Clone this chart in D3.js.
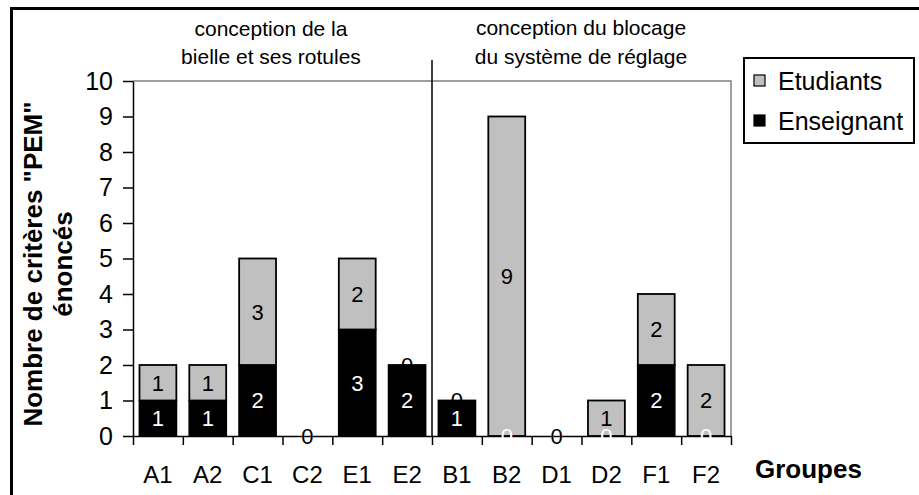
<!DOCTYPE html>
<html>
<head>
<meta charset="utf-8">
<script src="https://cdn.jsdelivr.net/npm/d3@7"></script>
<style>
  body { margin: 0; background: #fff; }
  text { font-family: "Liberation Sans", Arial, sans-serif; }
</style>
</head>
<body>
<div id="plot"></div>
<script>
// data
let groupes = ['A1', 'A2', 'C1', 'C2', 'E1', 'E2', 'B1', 'B2', 'D1', 'D2', 'F1', 'F2'];
let enseignant = [1, 1, 2, 0, 3, 2, 1, 0, 0, 0, 2, 0];
let etudiants  = [1, 1, 3, 0, 2, 0, 0, 9, 0, 1, 2, 2];
let yTicks = [0, 1, 2, 3, 4, 5, 6, 7, 8, 9, 10];
let headerLeft  = ['conception de la', 'bielle et ses rotules'];
let headerRight = ['conception du blocage', 'du système de réglage'];
let series = ['Enseignant', 'Etudiants'];

let data = groupes.map((g, i) => ({ groupe: g, Enseignant: enseignant[i], Etudiants: etudiants[i] }));

let width = 919, height = 495;
let margin = { top: 81, bottom: 59, left: 133, right: 188 };

const colors = d3.scaleOrdinal()
  .domain(series)
  .range(['#000000', '#c0c0c0']);
const labelColors = d3.scaleOrdinal()
  .domain(series)
  .range(['#ffffff', '#000000']);

let svg = d3.select('#plot')
  .append('svg')
  .attr('width', width)
  .attr('height', height)
  .style('background', '#fff');

// outer frame (runs off the right and bottom edges)
svg.append('rect')
  .attr('x', 11.5).attr('y', 8.5)
  .attr('width', 930).attr('height', 520)
  .attr('fill', 'none')
  .attr('stroke', '#000')
  .attr('stroke-width', 3);

let yScale = d3.scaleLinear()
  .domain([0, 10])
  .range([height - margin.bottom, margin.top]);

let xScale = d3.scaleBand()
  .domain(groupes)
  .range([margin.left, width - margin.right])
  .paddingInner(0.26)
  .paddingOuter(0.13);

// boundaries between groups, for the ticks
let xEdge = d3.scaleLinear()
  .domain([0, groupes.length])
  .range([margin.left, width - margin.right]);

// gray frame of the plot area (top and right)
svg.append('path')
  .attr('d', `M${margin.left},${yScale(10)}H${width - margin.right}V${yScale(0)}`)
  .attr('fill', 'none')
  .attr('stroke', '#808080')
  .attr('stroke-width', 1.5);

// separator between the two parts
svg.append('line')
  .attr('x1', xEdge(6)).attr('x2', xEdge(6))
  .attr('y1', 60).attr('y2', yScale(0))
  .attr('stroke', '#000')
  .attr('stroke-width', 1.5);

// headers
svg.append('g').selectAll('text')
  .data(headerLeft)
  .enter()
  .append('text')
  .attr('x', 271)
  .attr('y', (d, i) => 36 + i * 28)
  .attr('text-anchor', 'middle')
  .style('font-size', '21px')
  .text(d => d);

svg.append('g').selectAll('text')
  .data(headerRight)
  .enter()
  .append('text')
  .attr('x', 581)
  .attr('y', (d, i) => 35 + i * 29)
  .attr('text-anchor', 'middle')
  .style('font-size', '21px')
  .text(d => d);

// stacked bars
let stacked = d3.stack().keys(series)(data);

let layers = svg.append('g')
  .selectAll('g')
  .data(stacked)
  .enter()
  .append('g')
  .attr('fill', d => colors(d.key));

layers.selectAll('rect')
  .data(d => d.filter(s => s[1] > s[0]))
  .enter()
  .append('rect')
  .attr('x', d => xScale(d.data.groupe))
  .attr('y', d => yScale(d[1]))
  .attr('width', xScale.bandwidth())
  .attr('height', d => yScale(d[0]) - yScale(d[1]))
  .attr('stroke', '#000')
  .attr('stroke-width', 1.8);

// y axis
let yAxis = svg.append('g')
  .attr('transform', `translate(${margin.left},0)`)
  .call(d3.axisLeft(yScale).tickValues(yTicks).tickSize(10).tickSizeOuter(0).tickPadding(10));
yAxis.select('.domain').attr('stroke-width', 1.5);
yAxis.selectAll('.tick line').attr('stroke-width', 1.5);
yAxis.selectAll('.tick text')
  .style('font-size', '25px')
  .style('font-family', '"Liberation Sans", Arial, sans-serif')
  .attr('fill', '#000');

// x axis: ticks on the band edges, labels in the middle
let xAxis = svg.append('g')
  .attr('transform', `translate(0,${yScale(0)})`)
  .call(d3.axisBottom(xEdge).tickValues(d3.range(groupes.length + 1)).tickFormat('').tickSize(9).tickSizeOuter(0));
xAxis.select('.domain').attr('stroke-width', 1.5);
xAxis.selectAll('.tick line').attr('stroke-width', 1.5);

svg.append('g').selectAll('text')
  .data(groupes)
  .enter()
  .append('text')
  .attr('x', d => xScale(d) + xScale.bandwidth() / 2)
  .attr('y', 483)
  .attr('text-anchor', 'middle')
  .style('font-size', '24px')
  .text(d => d);

// value labels, drawn over the bars
layers.each(function (layer) {
  svg.append('g').selectAll('text')
    .data(layer)
    .enter()
    .append('text')
    .attr('x', d => xScale(d.data.groupe) + xScale.bandwidth() / 2)
    .attr('y', d => yScale((d[0] + d[1]) / 2))
    .attr('dy', '0.36em')
    .attr('text-anchor', 'middle')
    .attr('fill', labelColors(layer.key))
    .style('font-size', '22px')
    .text(d => d[1] - d[0]);
});

// y title
let yTitle = svg.append('text')
  .attr('transform', 'translate(0,264) rotate(-90)')
  .attr('text-anchor', 'middle')
  .style('font-size', '26px')
  .style('font-weight', 'bold');
yTitle.append('tspan').attr('x', 0).attr('y', 42).text('Nombre de critères "PEM"');
yTitle.append('tspan').attr('x', 0).attr('y', 72).text('énoncés');

// x title
svg.append('text')
  .attr('x', 755)
  .attr('y', 478)
  .style('font-size', '26px')
  .style('font-weight', 'bold')
  .text('Groupes');

// legend
let legend = svg.append('g');
legend.append('rect')
  .attr('x', 744).attr('y', 58)
  .attr('width', 170).attr('height', 85)
  .attr('fill', '#fff')
  .attr('stroke', '#000')
  .attr('stroke-width', 2);

let legendItems = legend.selectAll('g')
  .data(['Etudiants', 'Enseignant'])
  .enter()
  .append('g')
  .attr('transform', (d, i) => `translate(754,${75 + i * 40})`);
legendItems.append('rect')
  .attr('width', 11).attr('height', 11)
  .attr('fill', d => colors(d))
  .attr('stroke', '#000')
  .attr('stroke-width', 1.2);
legendItems.append('text')
  .attr('x', 24)
  .attr('y', 15)
  .style('font-size', '25px')
  .text(d => d);
</script>
</body>
</html>
